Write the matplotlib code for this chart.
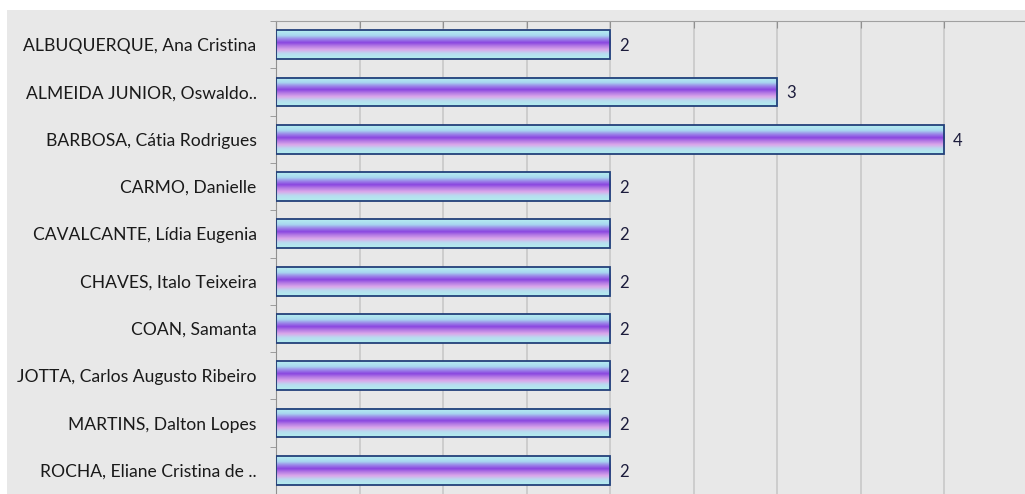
import matplotlib
matplotlib.use("Agg")
import matplotlib.pyplot as plt
import numpy as np
from matplotlib.colors import LinearSegmentedColormap
from matplotlib.patches import Rectangle

names = [
    "ALBUQUERQUE, Ana Cristina",
    "ALMEIDA JUNIOR, Oswaldo..",
    "BARBOSA, Cátia Rodrigues",
    "CARMO, Danielle",
    "CAVALCANTE, Lídia Eugenia",
    "CHAVES, Italo Teixeira",
    "COAN, Samanta",
    "JOTTA, Carlos Augusto Ribeiro",
    "MARTINS, Dalton Lopes",
    "ROCHA, Eliane Cristina de ..",
]
values = [2, 3, 4, 2, 2, 2, 2, 2, 2, 2]

W, H = 1025, 494
fig = plt.figure(figsize=(W / 100, H / 100), dpi=100, facecolor="white")
fig.patches.append(Rectangle((7 / W, 0), 1 - 7 / W, (H - 10) / H,
                             transform=fig.transFigure, facecolor="#e8e8e8",
                             edgecolor="none", zorder=-10))

ax = fig.add_axes([276 / W, 0, 1 - 276 / W, (H - 21) / H])
ax.set_facecolor("#e8e8e8")

y = np.arange(len(names))
bars = ax.barh(y, values, height=0.61, facecolor="none",
               edgecolor="#23407a", linewidth=1.3, zorder=3)

cmap = LinearSegmentedColormap.from_list("grad", [
    (0.0, "#b6eef0"),
    (0.18, "#a8d8f0"),
    (0.32, "#9a80e8"),
    (0.43, "#8a46e0"),
    (0.55, "#b47ae4"),
    (0.68, "#dba8ea"),
    (0.82, "#b8dcf0"),
    (1.0, "#b2eeee"),
])
grad = np.linspace(0, 1, 64).reshape(-1, 1)
for b in bars:
    x0, y0, w, h = b.get_x(), b.get_y(), b.get_width(), b.get_height()
    ax.imshow(grad, cmap=cmap, aspect="auto", origin="upper",
              extent=(x0, x0 + w, y0 + h, y0), zorder=2,
              interpolation="bilinear")

for b, v in zip(bars, values):
    ax.text(b.get_width() + 0.055, b.get_y() + b.get_height() / 2, str(v),
            va="center_baseline", ha="left", fontsize=12, color="#1c1c3c",
            family="Lato", zorder=4)

ax.set_xlim(0, 4.485)
ax.set_ylim(len(names) - 0.5, -0.5)

ax.set_xticks(np.arange(0, 4.5, 0.5))
ax.xaxis.tick_top()
ax.tick_params(axis="x", direction="in", length=5, color="#909090",
               labeltop=False, labelbottom=False)
ax.grid(axis="x", color="#c8c8c8", linewidth=1.2, zorder=0)
ax.set_axisbelow(True)

ax.set_yticks(y)
ax.set_yticklabels(names, family="Lato", fontsize=12.6, color="#1a1a1a")
for t in ax.get_yticklabels():
    t.set_verticalalignment("center_baseline")
ax.set_yticks(np.arange(-0.5, len(names), 1.0), minor=True)
ax.tick_params(axis="y", which="major", length=0, pad=14)
ax.tick_params(axis="y", which="minor", length=4, color="#909090")

for s in ["right", "bottom"]:
    ax.spines[s].set_visible(False)
ax.spines["left"].set_color("#909090")
ax.spines["top"].set_color("#a0a0a0")

fig.savefig("out.png", dpi=100, facecolor=fig.get_facecolor())
